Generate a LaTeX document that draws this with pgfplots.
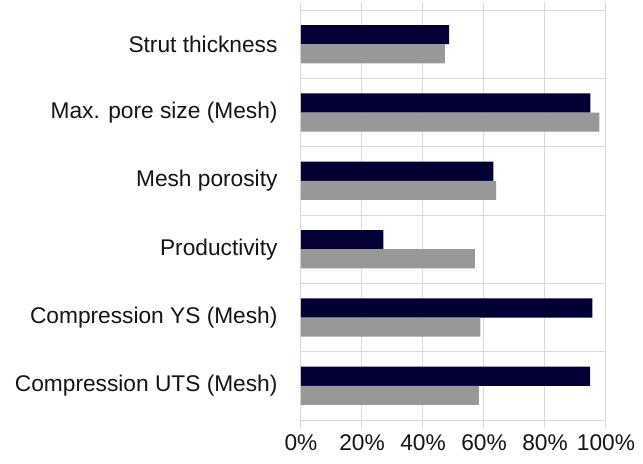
\documentclass[border=0pt]{standalone}
\usepackage{fontspec}
\setmainfont{Liberation Sans}
\usepackage{pgfplots}
\pgfplotsset{compat=1.18}
\definecolor{navy}{HTML}{020035}
\definecolor{barGray}{HTML}{989898}
\definecolor{gridGray}{HTML}{D9D9D9}
\begin{document}
\begin{tikzpicture}
\begin{axis}[
  scale only axis, width=305bp, height=410bp,
  at={(0,0)}, anchor=south west,
  xmin=0, xmax=100, ymin=-0.5, ymax=5.5,
  xtick={0,20,...,100},
  xticklabels={0\%,20\%,40\%,60\%,80\%,100\%},
  ytick={0,...,5},
  yticklabels={Compression UTS (Mesh),Compression YS (Mesh),Productivity,Mesh porosity,Max. pore size (Mesh),Strut thickness},
  minor ytick={0.5,1.5,2.5,3.5,4.5},
  xmajorgrids, yminorgrids,
  grid style={gridGray, line width=1bp},
  axis line style={gridGray, line width=1bp},
  major y tick style={draw=none}, minor y tick style={draw=none},
  x tick style={gridGray, line width=1bp},
  tick align=outside, major tick length=8bp,
  ticklabel style={font=\fontsize{22.8}{27}\selectfont, text=black!92},
  xticklabel shift=3bp,
  yticklabel shift=12bp,
]
\addplot[xbar, bar width=0.28, bar shift=0, fill=navy, draw=none]
  coordinates {(94.8,0.14) (95.5,1.14) (27.0,2.14) (63.1,3.14) (94.9,4.14) (48.6,5.14)};
\addplot[xbar, bar width=0.28, bar shift=0, fill=barGray, draw=none]
  coordinates {(58.3,-0.14) (58.8,0.86) (57.0,1.86) (64.0,2.86) (97.8,3.86) (47.2,4.86)};
\end{axis}
\path (-301bp,-44bp) rectangle (342bp,420bp);
\end{tikzpicture}
\end{document}
